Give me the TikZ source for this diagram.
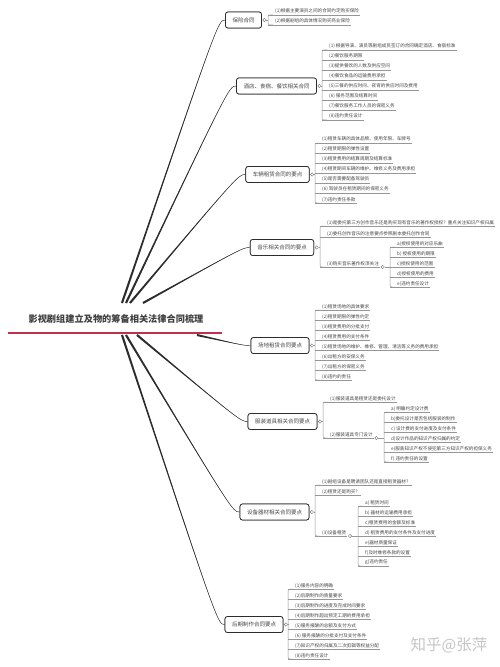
\documentclass[tikz,border=0pt]{standalone}
\usepackage{fontspec}
\setmainfont{Noto Sans CJK SC}
\usetikzlibrary{calc}
\definecolor{redl}{RGB}{196,48,76}
\definecolor{txt}{RGB}{70,70,70}
\definecolor{ul}{RGB}{150,150,150}
\definecolor{trunkc}{RGB}{45,45,45}
\tikzset{
  mainbox/.style={draw=trunkc,line width=0.7bp,rounded corners=2.5bp,fill=white,
    font=\fontsize{5.5bp}{6bp}\selectfont,text=txt,inner xsep=7bp,minimum height=16bp},
  leaf/.style={anchor=south west,inner xsep=1bp,inner ysep=0.9bp,
    font=\fontsize{4.6bp}{5bp}\selectfont,text=txt},
  brk/.style={draw=ul,line width=0.5bp},
  dot/.style={circle,draw=gray,fill=white,inner sep=0pt,minimum size=3.4bp,line width=0.45bp},
  titlenode/.style={font=\fontsize{9.2bp}{10bp}\selectfont\bfseries,text=black!75},
  redline/.style={draw=redl,line width=2.2bp},
  wm/.style={font=\fontsize{15.5bp}{16bp}\selectfont,text=gray!45}
}
\newcommand\kids[7]{%
  \draw[brk] (#2.east) -- (#3,#4);
  \draw[brk,rounded corners=2bp] (#3+5,#5) -- (#3,#5) -- (#3,#6) -- (#3+5,#6);
  \foreach \yy/\txt [count=\i] in {#7}{%
    \node[leaf] (#1-\i) at (#3+6,\yy) {\txt};
    \draw[brk] (#3,\yy) -- (#1-\i.south east);
  }}
\newcommand\trunk[4]{%
  \fill[trunkc] ($(#1)+1.2*(#3,#4)$) .. controls ($(#2.west)+(-7,0)$) .. (#2.west)
     .. controls ($(#2.west)+(-7,0)$) .. ($(#1)-1.2*(#3,#4)$) -- cycle;
  \draw[trunkc,line width=0.4bp] (#1) .. controls ($(#2.west)+(-7,0)$) .. (#2.west);}
\begin{document}
\begin{tikzpicture}[x=1bp,y=-1bp]
\useasboundingbox (0,0) rectangle (500,667);
\fill[white] (0,0) rectangle (500,667);

% title
\node[titlenode] (t) at (116,319) {影视剧组建立及物的筹备相关法律合同梳理};
\draw[redline] ($(t.center)+(-108,14)$) -- ($(t.center)+(106,14)$);

% main boxes
\node[mainbox] (b1) at (243.5,20) {保险合同};
\node[mainbox] (b2) at (276.5,86) {酒店、食宿、餐饮相关合同};
\node[mainbox] (b3) at (277.5,174.5) {车辆租赁合同的要点};
\node[mainbox] (b4) at (282,247.5) {音乐相关合同的要点};
\node[mainbox] (b5) at (280,345.5) {场地租赁合同要点};
\node[mainbox] (b6) at (282.5,421.5) {服装道具相关合同要点};
\node[mainbox] (b7) at (274.5,512) {设备器材相关合同要点};
\node[mainbox] (b8) at (254,624.5) {后期制作合同要点};

% trunk roots
\coordinate (r1) at (122,303);
\coordinate (r2) at (126,303);
\coordinate (r3) at (130,303);
\coordinate (r4) at (143,303);
\coordinate (r5) at (197,335);
\coordinate (r6) at (137,335);
\coordinate (r7) at (126,335);
\coordinate (r8) at (122,335);

\trunk{r1}{b1}{0.85}{0.31}
\trunk{r2}{b2}{0.8}{0.41}
\trunk{r3}{b3}{0.67}{0.6}
\trunk{r4}{b4}{0.41}{0.8}
\trunk{r5}{b5}{-0.17}{0.88}
\trunk{r6}{b6}{-0.55}{0.71}
\trunk{r7}{b7}{-0.76}{0.49}
\trunk{r8}{b8}{-0.85}{0.30}

% redraw boxes on top of trunks, with their fold dots
\foreach \b/\tx in {b1/保险合同,b2/酒店、食宿、餐饮相关合同,b3/车辆租赁合同的要点,b4/音乐相关合同的要点,b5/场地租赁合同要点,b6/服装道具相关合同要点,b7/设备器材相关合同要点,b8/后期制作合同要点}{
  \node[mainbox] at (\b.center) {\tx};
  \node[dot] (\b d) at ($(\b.east)+(2.6,0)$) {};
}

% children
\kids{k1}{b1d}{268}{20}{15}{25}{15/(1)根据主要演员之间的合同约定购买保险,25/(2)根据剧组的具体情况购买商业保险}

\kids{k2}{b2d}{322}{86}{50}{120}{50/(1) 根据导演、演员等剧组成员签订的合同确定酒店、食宿标准,60/(2)餐饮服务期限,70/(3)提供餐饮的人数及供应空间,80/(4)餐饮食品的运输费用承担,90/(5)三餐的供应时间、夜宵的供应时间及费用,100/(6) 服务范围及结算时间,110/(7)餐饮服务工作人员的保密义务,120/(8)违约责任设计}

\kids{k3}{b3d}{315}{174.5}{143}{203}{143/(1)租赁车辆的具体品牌、使用年限、车牌号,153/(2)租赁期限的弹性设置,163/(3)租赁费用的结算周期及结算标准,173/(4)租赁期间车辆的维护、维修义务及费用承担,183/(5)是否需要配备驾驶员,193/(6) 驾驶员在租赁期间的保密义务,203/(7)违约责任条款}

\kids{k4}{b4d}{320}{247.5}{226}{267}{226/(1)是委托第三方创作音乐还是购买现有音乐的著作权授权？重点关注知识产权归属,237/(2)委托创作音乐的注意要点参照剧本委托创作合同,267/(3)购买音乐著作权须关注}
\node[dot] (k4-3d) at ($(k4-3.south east)+(2.6,0)$) {};
\kids{s4}{k4-3d}{390}{267}{247}{287}{247/a)授权使用的对应乐曲,257/b) 授权使用的期限,267/c)授权使用的范围,277/d)授权使用的费用,287/e)违约责任设计}

\kids{k5}{b5d}{315}{345.5}{310}{380}{310/(1)租赁场地的具体要求,320/(2)租赁期限的弹性约定,330/(3)租赁费用的分批支付,340/(4)租赁费用的支付条件,350/(5)租赁场地的维护、维修、管理、清洁等义务的费用承担,360/(6)出租方的安保义务,370/(7)出租方的保密义务,380/(8)违约的责任}

\kids{k6}{b6d}{323}{421.5}{402}{438}{402/(1)服装道具是租赁还是委托设计,438/(2)服装道具专门设计}
\node[dot] (k6-2d) at ($(k6-2.south east)+(2.6,0)$) {};
\kids{s6}{k6-2d}{384}{438}{412}{462}{412/a) 明确约定设计费,422/b)委托设计是否包括服装的制作,432/c) 设计费的支付进度及支付条件,442/d)设计作品的知识产权归属的约定,452/e)服装知识产权不侵犯第三方知识产权的担保义务,462/f) 违约责任的设置}

\kids{k7}{b7d}{315}{512}{485}{536}{485/(1)剧组设备是聘请团队还是直接租赁器材？,495/(2)租赁还是购买？,536/(3)设备租赁}
\node[dot] (k7-3d) at ($(k7-3.south east)+(2.6,0)$) {};
\kids{s7}{k7-3d}{358}{536}{506}{566}{506/a) 租赁时间,516/b) 器材的运输费用承担,526/c)租赁费用的金额及标准,536/d) 租赁费用的支付条件及支付进度,546/e)器材质量保证,556/f)及时维修条款的设置,566/g)违约责任}

\kids{k8}{b8d}{288}{624.5}{589}{659}{589/(1)服务内容的明确,599/(2)后期制作的质量要求,609/(3)后期制作的进度及完成时间要求,619/(4)后期制作超出预定工期的费用承担,629/(5)服务报酬的总额及支付方式,639/(6) 服务报酬的分批支付及支付条件,649/(7)知识产权的归属及二次剪辑等权益分配,659/(8)违约责任设计}

% watermark
\node[wm] (wm) at (449,645) {知乎@张萍};
\end{tikzpicture}
\end{document}
